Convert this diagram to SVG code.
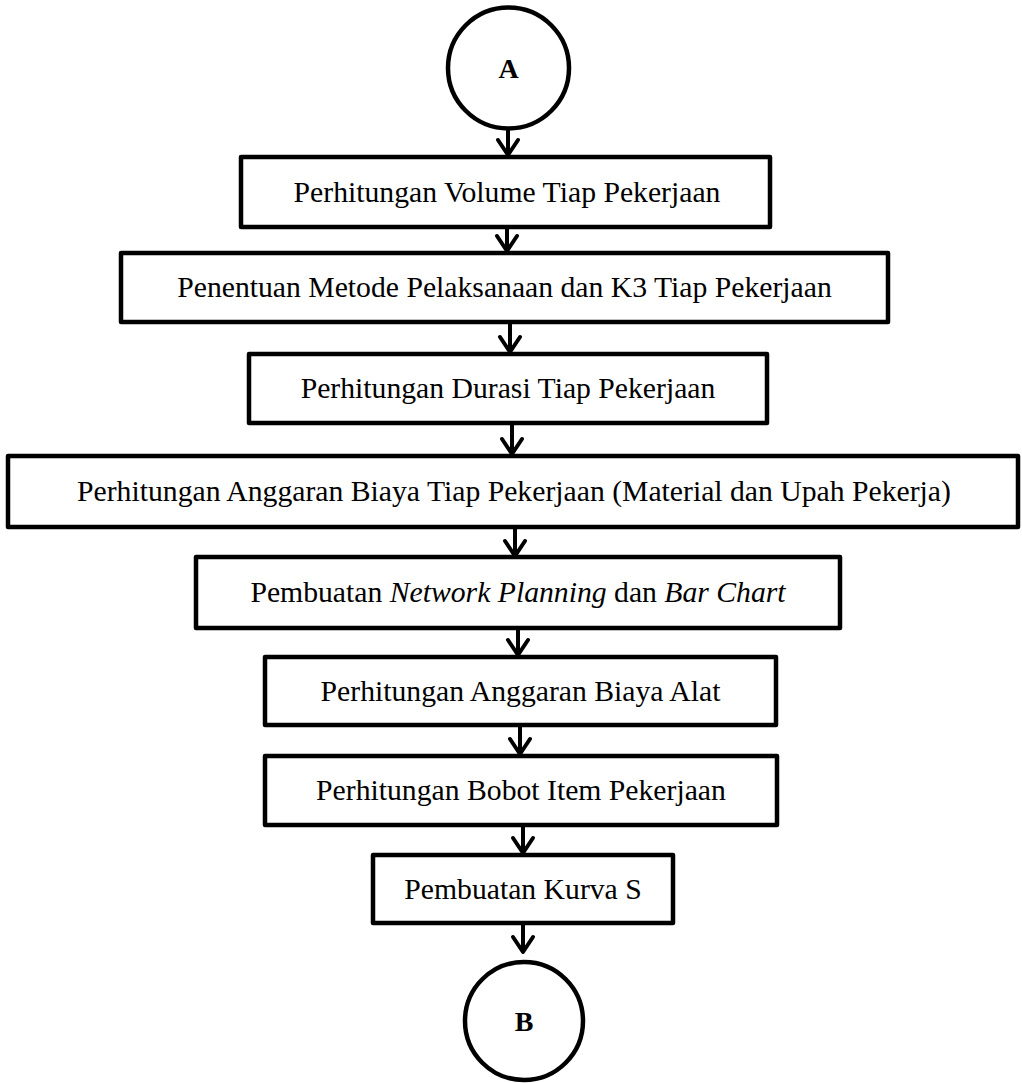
<svg xmlns="http://www.w3.org/2000/svg" width="1022" height="1083" viewBox="0 0 1022 1083">
<style>
.box{fill:#fff;stroke:#000;stroke-width:4.5;stroke-linejoin:round}
.circ{fill:#fff;stroke:#000;stroke-width:4.5}
.lbl{font-family:"Liberation Serif","Times New Roman",serif;font-size:29.7px;fill:#000;text-anchor:middle}
.cl{font-family:"Liberation Serif","Times New Roman",serif;font-size:28px;font-weight:bold;fill:#000;text-anchor:middle}
.con{stroke:#000;stroke-width:4;fill:none}
.head{stroke:#000;stroke-width:4;fill:none;stroke-linecap:round;stroke-linejoin:round}
</style>
<rect width="1022" height="1083" fill="#fff"/>
<g id="connectors">
<line class="con" x1="508" y1="129" x2="508" y2="154"/><polyline class="head" points="498,140 508,155 518,140"/>
<line class="con" x1="507" y1="227" x2="507" y2="250"/><polyline class="head" points="497,236 507,251 517,236"/>
<line class="con" x1="510" y1="322" x2="510" y2="351"/><polyline class="head" points="500,337 510,352 520,337"/>
<line class="con" x1="512" y1="423" x2="512" y2="453"/><polyline class="head" points="502,439 512,454 522,439"/>
<line class="con" x1="515" y1="527" x2="515" y2="555"/><polyline class="head" points="505,541 515,556 525,541"/>
<line class="con" x1="518" y1="628" x2="518" y2="654"/><polyline class="head" points="508,640 518,655 528,640"/>
<line class="con" x1="520" y1="725" x2="520" y2="753"/><polyline class="head" points="510,739 520,754 530,739"/>
<line class="con" x1="523" y1="825" x2="523" y2="852"/><polyline class="head" points="513,838 523,853 533,838"/>
<line class="con" x1="523" y1="923" x2="523" y2="951"/><polyline class="head" points="513,937 523,952 533,937"/>
</g>
<g id="nodeA"><circle class="circ" cx="508.5" cy="68" r="60.5"/><text class="cl" x="508.5" y="78">A</text></g>
<g id="n1"><rect class="box" x="241" y="157" width="529" height="70"/><text class="lbl" x="507" y="202">Perhitungan Volume Tiap Pekerjaan</text></g>
<g id="n2"><rect class="box" x="121" y="253" width="767" height="69"/><text class="lbl" x="504.5" y="297">Penentuan Metode Pelaksanaan dan K3 Tiap Pekerjaan</text></g>
<g id="n3"><rect class="box" x="249" y="354" width="518" height="69"/><text class="lbl" x="508" y="398">Perhitungan Durasi Tiap Pekerjaan</text></g>
<g id="n4"><rect class="box" x="8" y="456" width="1010" height="71"/><text class="lbl" x="514" y="501">Perhitungan Anggaran Biaya Tiap Pekerjaan (Material dan Upah Pekerja)</text></g>
<g id="n5"><rect class="box" x="196" y="557" width="644" height="71"/><text class="lbl" x="518" y="602">Pembuatan <tspan font-style="italic">Network Planning</tspan> dan <tspan font-style="italic">Bar Chart</tspan></text></g>
<g id="n6"><rect class="box" x="265" y="657" width="511" height="68"/><text class="lbl" x="520.5" y="701">Perhitungan Anggaran Biaya Alat</text></g>
<g id="n7"><rect class="box" x="265" y="756" width="512" height="69"/><text class="lbl" x="521" y="800">Perhitungan Bobot Item Pekerjaan</text></g>
<g id="n8"><rect class="box" x="373" y="855" width="300" height="68"/><text class="lbl" x="523" y="899">Pembuatan Kurva S</text></g>
<g id="nodeB"><circle class="circ" cx="524" cy="1021" r="59"/><text class="cl" x="524" y="1031">B</text></g>
</svg>
